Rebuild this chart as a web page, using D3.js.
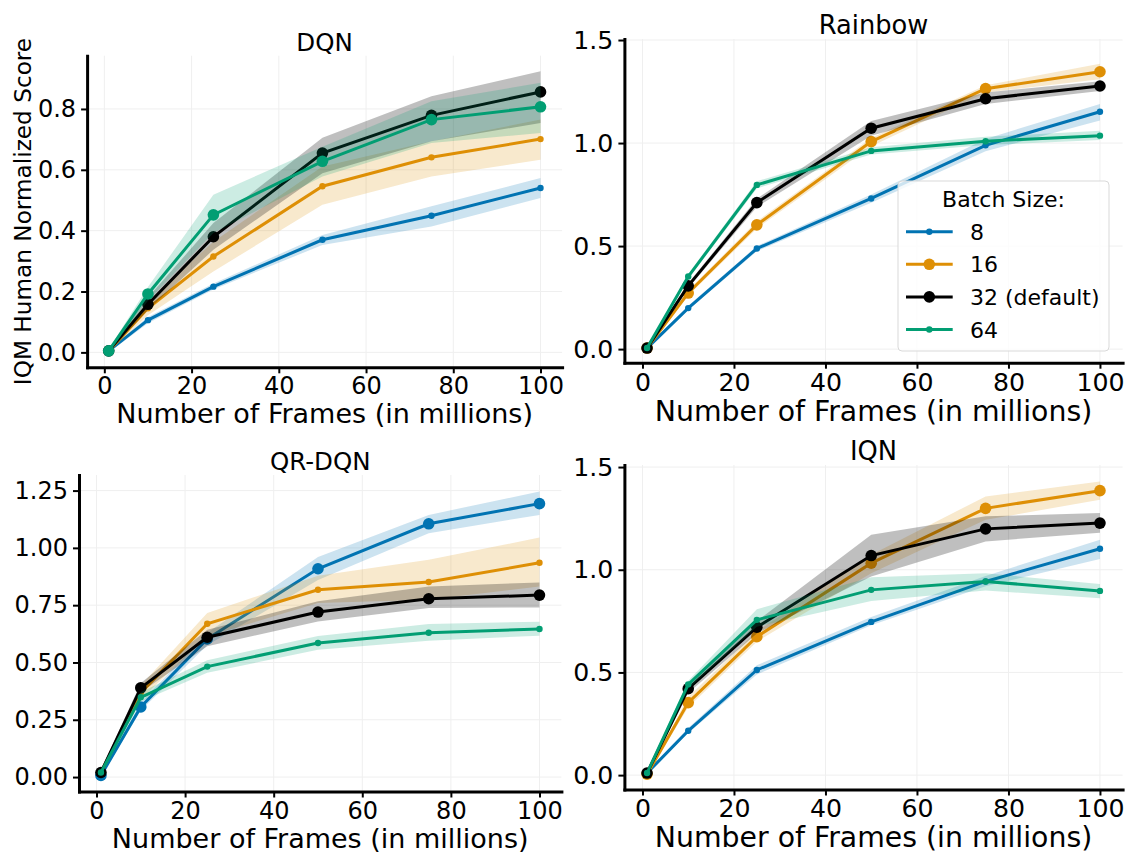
<!DOCTYPE html>
<html>
<head>
<meta charset="utf-8">
<script src="https://cdn.jsdelivr.net/npm/d3@7"></script>
<style>
  body { margin: 0; background: #fff; }
  text { font-family: "DejaVu Sans", sans-serif; fill: #000; }
</style>
</head>
<body>
<div id="chart"></div>
<script>
// frames (millions) and batch sizes
var frames = [1, 10, 25, 50, 75, 100];
var batchLabels = ["8", "16", "32 (default)", "64"];
var colors = ["#0173b2", "#de8f05", "#000000", "#029e73"];
var xTicks = [0, 20, 40, 60, 80, 100];

// DQN: mean / lower / upper per batch size (8, 16, 32, 64)
var dqnMean = [
  [0.005, 0.106, 0.216, 0.370, 0.449, 0.540],
  [0.005, 0.145, 0.315, 0.546, 0.641, 0.701],
  [0.005, 0.158, 0.380, 0.655, 0.779, 0.856],
  [0.005, 0.192, 0.452, 0.628, 0.765, 0.807]
];
var dqnLow = [
  [0.0, 0.096, 0.207, 0.353, 0.414, 0.507],
  [0.0, 0.122, 0.266, 0.485, 0.578, 0.633],
  [0.0, 0.140, 0.337, 0.589, 0.694, 0.754],
  [0.0, 0.170, 0.392, 0.578, 0.688, 0.721]
];
var dqnHigh = [
  [0.01, 0.116, 0.226, 0.386, 0.480, 0.573],
  [0.01, 0.168, 0.364, 0.611, 0.694, 0.765],
  [0.01, 0.180, 0.425, 0.705, 0.842, 0.924],
  [0.01, 0.215, 0.518, 0.676, 0.825, 0.886]
];

// Rainbow
var rainbowMean = [
  [0.005, 0.199, 0.488, 0.731, 0.989, 1.152],
  [0.005, 0.272, 0.603, 1.007, 1.264, 1.346],
  [0.005, 0.307, 0.711, 1.072, 1.215, 1.277],
  [0.005, 0.352, 0.797, 0.962, 1.009, 1.036]
];
var rainbowLow = [
  [0.0, 0.19, 0.475, 0.71, 0.96, 1.11],
  [0.0, 0.26, 0.585, 0.985, 1.245, 1.31],
  [0.0, 0.295, 0.69, 1.035, 1.19, 1.253],
  [0.0, 0.34, 0.78, 0.945, 0.99, 1.015]
];
var rainbowHigh = [
  [0.01, 0.21, 0.50, 0.75, 1.02, 1.19],
  [0.01, 0.285, 0.62, 1.025, 1.28, 1.385],
  [0.01, 0.32, 0.73, 1.107, 1.245, 1.30],
  [0.01, 0.365, 0.815, 0.98, 1.03, 1.06]
];

// QR-DQN
var qrMean = [
  [0.007, 0.306, 0.603, 0.909, 1.105, 1.193],
  [0.02, 0.367, 0.669, 0.817, 0.851, 0.935],
  [0.02, 0.389, 0.610, 0.720, 0.778, 0.794],
  [0.02, 0.348, 0.482, 0.585, 0.630, 0.646]
];
var qrLow = [
  [0.0, 0.29, 0.575, 0.86, 1.064, 1.144],
  [0.01, 0.34, 0.614, 0.759, 0.774, 0.832],
  [0.01, 0.37, 0.571, 0.679, 0.738, 0.740],
  [0.01, 0.33, 0.455, 0.555, 0.595, 0.617]
];
var qrHigh = [
  [0.015, 0.325, 0.63, 0.96, 1.144, 1.246],
  [0.03, 0.40, 0.716, 0.878, 0.948, 1.045],
  [0.03, 0.41, 0.643, 0.767, 0.832, 0.849],
  [0.03, 0.37, 0.51, 0.615, 0.668, 0.678]
];

// IQN
var iqnMean = [
  [0.01, 0.216, 0.512, 0.746, 0.943, 1.102],
  [0.005, 0.353, 0.674, 1.032, 1.299, 1.385],
  [0.01, 0.421, 0.720, 1.069, 1.199, 1.227],
  [0.01, 0.442, 0.756, 0.902, 0.943, 0.897]
];
var iqnLow = [
  [0.0, 0.205, 0.49, 0.73, 0.92, 1.052],
  [0.0, 0.33, 0.65, 0.983, 1.243, 1.341],
  [0.0, 0.40, 0.69, 0.967, 1.138, 1.18],
  [0.0, 0.42, 0.723, 0.848, 0.899, 0.861]
];
var iqnHigh = [
  [0.02, 0.23, 0.535, 0.77, 0.97, 1.146],
  [0.01, 0.38, 0.70, 1.073, 1.357, 1.43],
  [0.02, 0.44, 0.75, 1.17, 1.26, 1.276],
  [0.02, 0.46, 0.808, 0.964, 0.983, 0.93]
];

// panel layout (pixels) and axis settings
var panels = [
  { title: "DQN", mean: dqnMean, low: dqnLow, high: dqnHigh,
    big: [false, false, true, true], fs: 1.0, labOff: 55.5,
    x0: 87.1, x1: 562.1, yTop: 55.7, yBot: 367.3,
    yDomain: [-0.049, 0.975], yTicks: [0, 0.2, 0.4, 0.6, 0.8], fmt: ".1f", ylabel: true },
  { title: "Rainbow", mean: rainbowMean, low: rainbowLow, high: rainbowHigh,
    big: [false, true, true, false], fs: 1.05, labOff: 58,
    x0: 624.4, x1: 1122.6, yTop: 39, yBot: 362.7,
    yDomain: [-0.066, 1.505], yTicks: [0, 0.5, 1.0, 1.5], fmt: ".1f", legend: true },
  { title: "QR-DQN", mean: qrMean, low: qrLow, high: qrHigh,
    big: [true, false, true, false], fs: 1.0, labOff: 56,
    x0: 79, x1: 561.4, yTop: 475, yBot: 791.5,
    yDomain: [-0.063, 1.318], yTicks: [0, 0.25, 0.5, 0.75, 1.0, 1.25], fmt: ".2f" },
  { title: "IQN", mean: iqnMean, low: iqnLow, high: iqnHigh,
    big: [false, true, true, false], fs: 1.05, labOff: 57,
    x0: 624.4, x1: 1122.6, yTop: 465, yBot: 789.5,
    yDomain: [-0.07, 1.51], yTicks: [0, 0.5, 1.0, 1.5], fmt: ".1f" }
];

var w = 1125, h = 852;
var svg = d3.select("#chart").append("svg").attr("width", w).attr("height", h);

function drawPanel(p) {
  var g = svg.append("g");
  var x = d3.scaleLinear().domain([-3.95, 104.95]).range([p.x0, p.x1]);
  var y = d3.scaleLinear().domain(p.yDomain).range([p.yBot, p.yTop]);

  // grid
  g.selectAll(".gx").data(xTicks).enter().append("line")
    .attr("x1", function (d) { return x(d); }).attr("x2", function (d) { return x(d); })
    .attr("y1", p.yTop).attr("y2", p.yBot)
    .attr("stroke", "#efefef").attr("stroke-width", 1);
  g.selectAll(".gy").data(p.yTicks).enter().append("line")
    .attr("x1", p.x0).attr("x2", p.x1)
    .attr("y1", function (d) { return y(d); }).attr("y2", function (d) { return y(d); })
    .attr("stroke", "#efefef").attr("stroke-width", 1);

  var area = d3.area()
    .x(function (d) { return x(d.f); })
    .y0(function (d) { return y(d.lo); })
    .y1(function (d) { return y(d.hi); });
  var line = d3.line()
    .x(function (d) { return x(d.f); })
    .y(function (d) { return y(d.m); });

  p.mean.forEach(function (series, i) {
    var pts = frames.map(function (f, j) {
      return { f: f, m: series[j], lo: p.low[i][j], hi: p.high[i][j] };
    });
    g.append("path").datum(pts)
      .attr("d", area)
      .attr("fill", colors[i])
      .attr("fill-opacity", i === 2 ? 0.25 : 0.2);
    g.append("path").datum(pts)
      .attr("d", line)
      .attr("fill", "none")
      .attr("stroke", colors[i])
      .attr("stroke-width", 3);
    g.selectAll(".m" + i).data(pts).enter().append("circle")
      .attr("cx", function (d) { return x(d.f); })
      .attr("cy", function (d) { return y(d.m); })
      .attr("r", p.big[i] ? 5.8 : 3.2)
      .attr("fill", colors[i]);
  });

  // axes
  var ax = g.append("g")
    .attr("transform", "translate(0," + p.yBot + ")")
    .call(d3.axisBottom(x).tickValues(xTicks).tickSize(6).tickSizeOuter(0).tickPadding(4));
  var ay = g.append("g")
    .attr("transform", "translate(" + p.x0 + ",0)")
    .call(d3.axisLeft(y).tickValues(p.yTicks).tickFormat(d3.format(p.fmt))
      .tickSize(6).tickSizeOuter(0).tickPadding(5));
  [ax, ay].forEach(function (a) {
    a.select(".domain").attr("stroke-width", 3).attr("stroke-linecap", "square");
    a.selectAll(".tick line").attr("stroke-width", 2);
    a.selectAll(".tick text")
      .style("font-family", "DejaVu Sans").style("font-size", (24 * p.fs) + "px").attr("fill", "#000");
  });

  // titles
  g.append("text")
    .attr("x", (p.x0 + p.x1) / 2).attr("y", p.yTop - 5)
    .attr("text-anchor", "middle").style("font-size", (24.5 * p.fs) + "px")
    .text(p.title);
  g.append("text")
    .attr("x", (p.x0 + p.x1) / 2).attr("y", p.yBot + p.labOff)
    .attr("text-anchor", "middle").style("font-size", (27 * p.fs) + "px")
    .text("Number of Frames (in millions)");
  if (p.ylabel) {
    g.append("text")
      .attr("transform", "translate(31," + (p.yTop + p.yBot) / 2 + ") rotate(-90)")
      .attr("text-anchor", "middle").style("font-size", "23.2px")
      .text("IQM Human Normalized Score");
  }
  if (p.legend) drawLegend(p.big);
}

function drawLegend(big) {
  var lx = 898, ly = 181;
  var lg = svg.append("g").attr("transform", "translate(" + lx + "," + ly + ")");
  lg.append("rect")
    .attr("width", 211).attr("height", 170).attr("rx", 4)
    .attr("fill", "#fff").attr("fill-opacity", 0.8)
    .attr("stroke", "#d9d9d9").attr("stroke-width", 1);
  lg.append("text").attr("x", 105.5).attr("y", 26)
    .attr("text-anchor", "middle").style("font-size", "22px").text("Batch Size:");
  batchLabels.forEach(function (lab, i) {
    var yy = 50.7 + i * 32.6;
    lg.append("line").attr("x1", 8).attr("x2", 54.7).attr("y1", yy).attr("y2", yy)
      .attr("stroke", colors[i]).attr("stroke-width", 3);
    lg.append("circle").attr("cx", 31.3).attr("cy", yy).attr("r", big[i] ? 5.8 : 3.2)
      .attr("fill", colors[i]);
    lg.append("text").attr("x", 72).attr("y", yy + 8)
      .style("font-size", "22px").text(lab);
  });
}

panels.forEach(drawPanel);
</script>
</body>
</html>
